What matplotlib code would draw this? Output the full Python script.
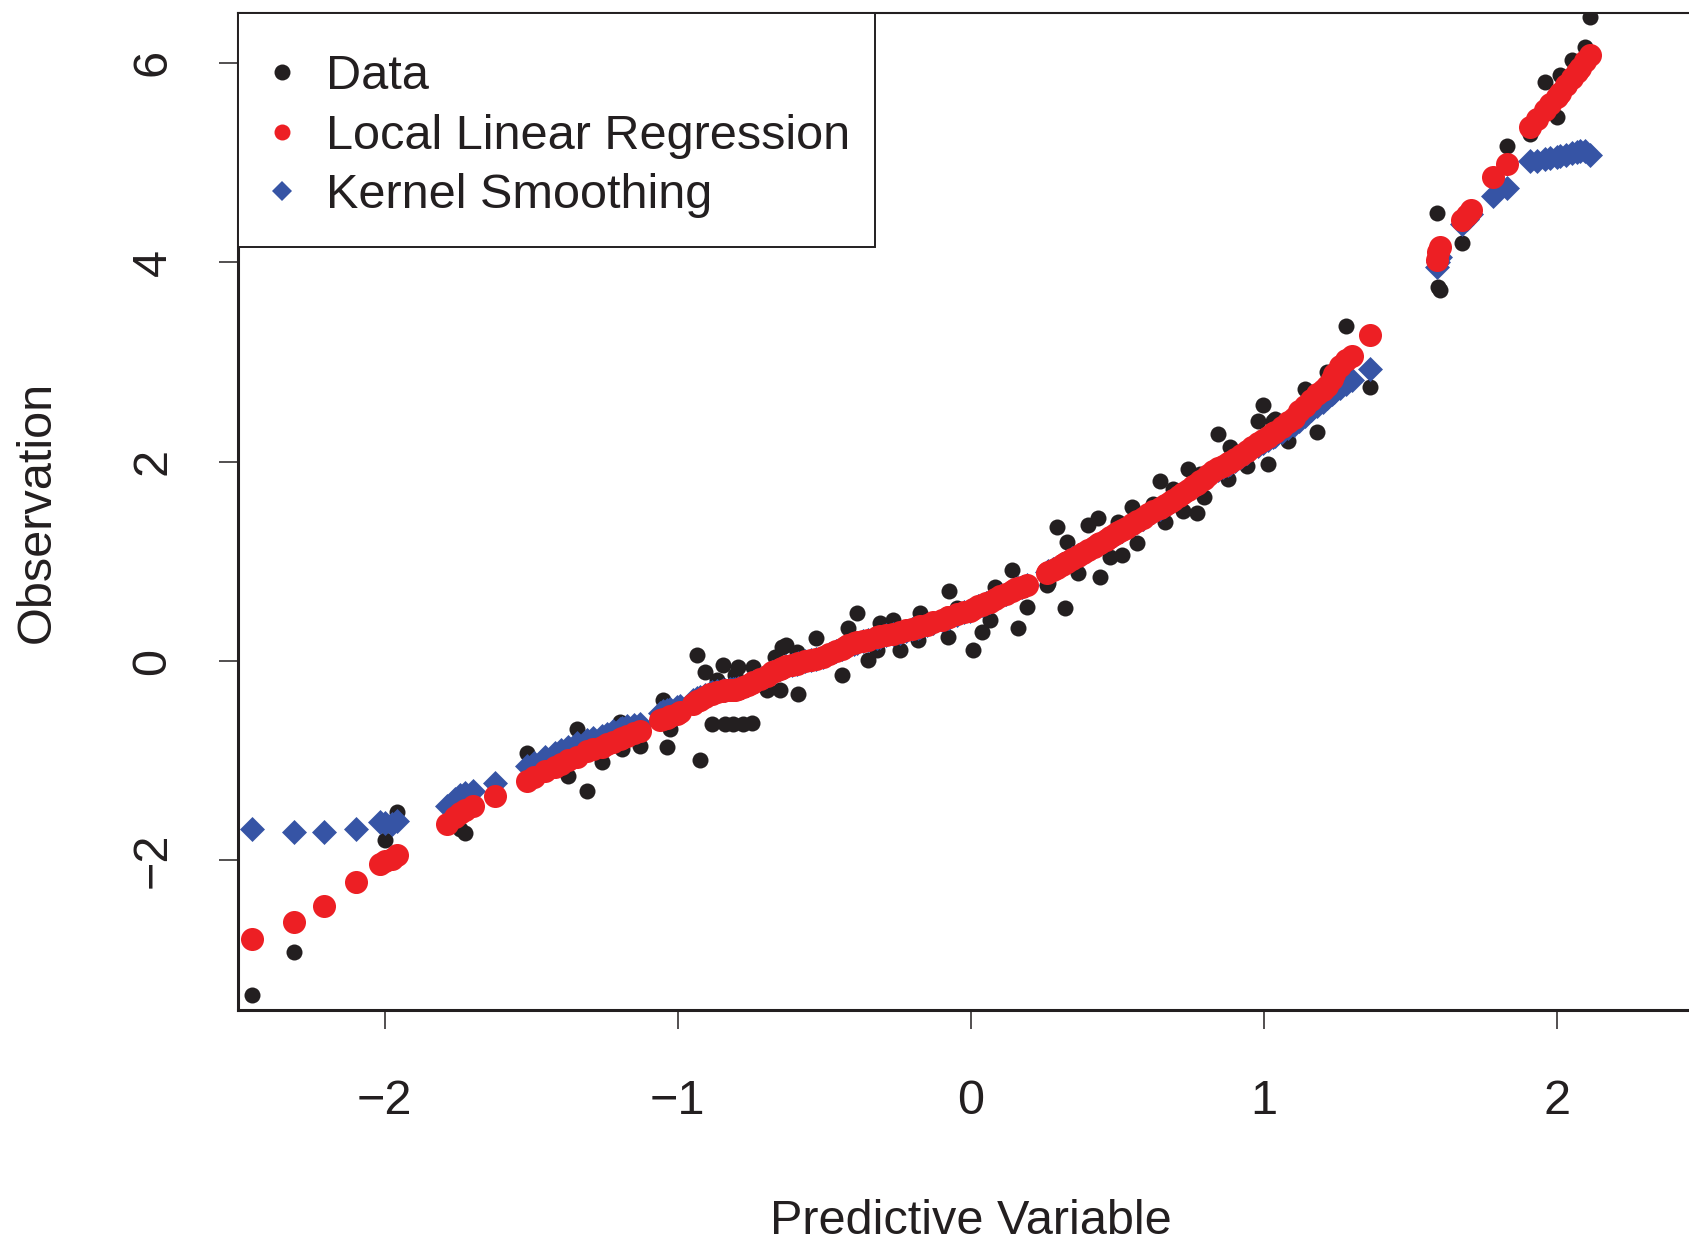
import matplotlib
matplotlib.use("Agg")
import matplotlib.pyplot as plt
from matplotlib.lines import Line2D
from matplotlib.patches import Rectangle

plt.rcParams['font.family'] = ['Liberation Sans', 'DejaVu Sans']

# ---- data ----
x_pred = [
    -2.451, -2.310, -2.207, -2.099, -2.016, -1.999, -1.975, -1.959,
    -1.788, -1.760, -1.743, -1.726, -1.697, -1.623,
    -1.515, -1.490, -1.453, -1.420, -1.400, -1.373, -1.345, -1.311, -1.290, -1.260,
    -1.243, -1.220, -1.197, -1.190, -1.174, -1.150, -1.129, -1.061, -1.049, -1.038,
    -1.027, -1.004, -0.992, -0.947, -0.935, -0.924, -0.907, -0.890, -0.884, -0.867,
    -0.845, -0.839, -0.822, -0.811, -0.805, -0.794, -0.777, -0.760, -0.748, -0.742,
    -0.720, -0.697, -0.680, -0.668, -0.651, -0.645, -0.630, -0.610, -0.594, -0.590,
    -0.565, -0.545, -0.528, -0.505, -0.485, -0.460, -0.441, -0.430, -0.419, -0.400,
    -0.390, -0.370, -0.351, -0.322, -0.310, -0.290, -0.265, -0.242, -0.220, -0.200,
    -0.180, -0.174, -0.150, -0.128, -0.100, -0.077, -0.075, -0.049, -0.025, -0.003,
    0.008, 0.025, 0.036, 0.050, 0.065, 0.082, 0.100, 0.120, 0.139, 0.150,
    0.161, 0.175, 0.190,
    0.258, 0.264, 0.280, 0.292, 0.310, 0.321, 0.326, 0.345, 0.366, 0.383,
    0.400, 0.420, 0.434, 0.440, 0.460, 0.474, 0.490, 0.502, 0.514, 0.530,
    0.548, 0.565, 0.585, 0.605, 0.622, 0.645, 0.662, 0.679, 0.690, 0.710,
    0.724, 0.741, 0.758, 0.770, 0.781, 0.793, 0.810, 0.826, 0.843, 0.860,
    0.878, 0.883, 0.900, 0.920, 0.940, 0.960, 0.980, 0.997, 1.014, 1.031,
    1.037, 1.060, 1.082, 1.100, 1.120, 1.139, 1.160, 1.179, 1.200, 1.215,
    1.230, 1.239, 1.260, 1.279, 1.301, 1.361,
    1.588, 1.594, 1.599, 1.673, 1.690, 1.707, 1.781, 1.827, 1.907, 1.930,
    1.958, 1.975, 1.998, 2.009, 2.030, 2.049, 2.066, 2.077, 2.094, 2.111,
]

y_obs = [
    -3.35, -2.92, -2.44, -2.25, -2.07, -1.79, -1.98, -1.51,
    -1.62, -1.55, -1.68, -1.72, -1.44, -1.36,
    -0.92, -1.15, -1.08, -1.05, -1.02, -1.15, -0.68, -1.30, -0.89, -1.01,
    -0.84, -0.80, -0.61, -0.88, -0.74, -0.72, -0.85, -0.56, -0.39, -0.86,
    -0.68, -0.53, -0.50, -0.42, 0.06, -0.99, -0.11, -0.34, -0.63, -0.19,
    -0.04, -0.63, -0.25, -0.63, -0.14, -0.06, -0.63, -0.24, -0.62, -0.06,
    -0.18, -0.29, -0.12, 0.04, -0.29, 0.14, 0.16, -0.04, 0.09, -0.33,
    0.02, -0.02, 0.23, 0.05, 0.08, 0.12, -0.14, 0.15, 0.33, 0.19,
    0.48, 0.22, 0.01, 0.11, 0.38, 0.27, 0.41, 0.11, 0.30, 0.33,
    0.21, 0.48, 0.37, 0.40, 0.42, 0.24, 0.70, 0.53, 0.49, 0.50,
    0.11, 0.55, 0.29, 0.60, 0.41, 0.74, 0.64, 0.68, 0.91, 0.70,
    0.33, 0.75, 0.54,
    0.76, 0.78, 0.92, 1.34, 0.95, 0.53, 1.19, 1.02, 0.88, 1.09,
    1.36, 1.13, 1.43, 0.84, 1.22, 1.04, 1.27, 1.39, 1.06, 1.34,
    1.55, 1.18, 1.44, 1.47, 1.58, 1.81, 1.39, 1.60, 1.73, 1.66,
    1.50, 1.93, 1.76, 1.48, 1.88, 1.65, 1.86, 1.90, 2.28, 1.96,
    1.83, 2.15, 2.03, 2.07, 1.96, 2.15, 2.41, 2.57, 1.98, 2.41,
    2.43, 2.35, 2.21, 2.44, 2.50, 2.73, 2.62, 2.30, 2.73, 2.90,
    2.84, 2.92, 2.96, 3.36, 3.05, 2.75,
    4.49, 3.75, 3.72, 4.19, 4.45, 4.52, 4.86, 5.17, 5.29, 5.42,
    5.81, 5.57, 5.46, 5.88, 5.78, 6.03, 5.95, 5.91, 6.16, 6.46,
]

y_llr = [
    -2.79, -2.62, -2.46, -2.22, -2.04, -2.01, -1.99, -1.95,
    -1.63, -1.56, -1.52, -1.49, -1.45, -1.35,
    -1.20, -1.16, -1.10, -1.06, -1.03, -0.99, -0.96, -0.90, -0.88, -0.86,
    -0.83, -0.81, -0.78, -0.77, -0.75, -0.72, -0.70, -0.59, -0.58, -0.57,
    -0.55, -0.53, -0.51, -0.43, -0.40, -0.39, -0.36, -0.33, -0.33, -0.31,
    -0.30, -0.29, -0.29, -0.29, -0.29, -0.28, -0.26, -0.24, -0.22, -0.21,
    -0.18, -0.15, -0.11, -0.10, -0.08, -0.07, -0.05, -0.04, -0.03, -0.02,
    0.00, 0.01, 0.02, 0.04, 0.07, 0.10, 0.12, 0.14, 0.16, 0.18,
    0.19, 0.20, 0.21, 0.24, 0.25, 0.26, 0.27, 0.29, 0.31, 0.32,
    0.34, 0.35, 0.36, 0.39, 0.41, 0.44, 0.44, 0.47, 0.49, 0.50,
    0.52, 0.55, 0.56, 0.58, 0.59, 0.62, 0.65, 0.67, 0.70, 0.72,
    0.73, 0.74, 0.76,
    0.88, 0.89, 0.91, 0.93, 0.96, 0.98, 0.99, 1.02, 1.05, 1.08,
    1.11, 1.14, 1.17, 1.18, 1.21, 1.24, 1.27, 1.29, 1.31, 1.33,
    1.37, 1.40, 1.43, 1.47, 1.50, 1.54, 1.57, 1.60, 1.62, 1.66,
    1.69, 1.72, 1.76, 1.78, 1.81, 1.83, 1.87, 1.91, 1.94, 1.96,
    1.99, 2.00, 2.03, 2.07, 2.11, 2.15, 2.19, 2.22, 2.25, 2.29,
    2.30, 2.35, 2.40, 2.44, 2.51, 2.56, 2.62, 2.68, 2.72, 2.76,
    2.83, 2.88, 2.96, 3.02, 3.06, 3.27,
    4.02, 4.10, 4.15, 4.42, 4.47, 4.52, 4.86, 4.99, 5.36, 5.44,
    5.53, 5.59, 5.66, 5.70, 5.78, 5.85, 5.91, 5.95, 6.02, 6.08,
]

y_ks = [
    -1.68, -1.71, -1.71, -1.68, -1.61, -1.62, -1.63, -1.60,
    -1.45, -1.38, -1.34, -1.32, -1.30, -1.22,
    -1.05, -1.02, -0.96, -0.92, -0.89, -0.86, -0.82, -0.79, -0.77, -0.75,
    -0.73, -0.70, -0.68, -0.67, -0.65, -0.64, -0.63, -0.52, -0.50, -0.49,
    -0.48, -0.46, -0.45, -0.39, -0.37, -0.36, -0.34, -0.32, -0.31, -0.30,
    -0.29, -0.29, -0.28, -0.28, -0.28, -0.27, -0.26, -0.24, -0.22, -0.21,
    -0.18, -0.15, -0.11, -0.10, -0.08, -0.07, -0.05, -0.04, -0.03, -0.02,
    0.00, 0.01, 0.02, 0.04, 0.07, 0.10, 0.12, 0.14, 0.15, 0.17,
    0.18, 0.20, 0.21, 0.23, 0.24, 0.26, 0.27, 0.28, 0.30, 0.32,
    0.33, 0.34, 0.36, 0.38, 0.41, 0.43, 0.43, 0.46, 0.49, 0.50,
    0.52, 0.55, 0.56, 0.58, 0.59, 0.62, 0.65, 0.67, 0.70, 0.72,
    0.73, 0.74, 0.76,
    0.89, 0.90, 0.92, 0.94, 0.97, 0.98, 1.00, 1.03, 1.06, 1.08,
    1.11, 1.14, 1.16, 1.17, 1.21, 1.23, 1.26, 1.28, 1.30, 1.33,
    1.36, 1.39, 1.42, 1.46, 1.49, 1.53, 1.56, 1.59, 1.61, 1.65,
    1.68, 1.71, 1.75, 1.77, 1.79, 1.82, 1.85, 1.89, 1.92, 1.95,
    1.97, 1.98, 2.01, 2.05, 2.09, 2.13, 2.16, 2.19, 2.22, 2.25,
    2.26, 2.30, 2.34, 2.37, 2.41, 2.46, 2.52, 2.56, 2.60, 2.64,
    2.68, 2.70, 2.74, 2.78, 2.82, 2.93,
    3.95, 4.00, 4.05, 4.38, 4.43, 4.48, 4.66, 4.74, 5.02, 5.02,
    5.04, 5.05, 5.06, 5.07, 5.08, 5.10, 5.11, 5.12, 5.12, 5.08,
]

legend_labels = ["Data", "Local Linear Regression", "Kernel Smoothing"]
x_ticks = [-2, -1, 0, 1, 2]
y_ticks = [-2, 0, 2, 4, 6]

C_BLACK = "#231f20"
C_RED = "#ed1f24"
C_BLUE = "#3654a5"

W, H = 1690, 1236
fig = plt.figure(figsize=(W / 100, H / 100), dpi=100)
ax_left, ax_right, ax_top, ax_bot = 238, 238 + 5 * 293.2, 13, 1010
axw = ax_right - ax_left
axh = ax_bot - ax_top
ax = fig.add_axes([ax_left / W, (H - ax_bot) / H, axw / W, axh / H])

ax.scatter(x_pred, y_obs, s=133, marker='o', color=C_BLACK, linewidths=0, zorder=2)
ax.scatter(x_pred, y_ks, s=162, marker='D', color=C_BLUE, linewidths=0, zorder=3)
ax.scatter(x_pred, y_llr, s=275, marker='o', color=C_RED, linewidths=0, zorder=4)

ax.set_xlim(-2.5, 2.5)
ax.set_ylim(-3.5, 6.5)
ax.set_xticks(x_ticks)
ax.set_yticks(y_ticks)
ax.set_xticklabels([("\u2212%d" % -v) if v < 0 else str(v) for v in x_ticks])
ax.set_yticklabels([("\u2212%d" % -v) if v < 0 else str(v) for v in y_ticks],
                   rotation=90, va='center')

FS = 35
ax.tick_params(axis='both', direction='out', length=14, width=1.1,
               color=C_BLACK, labelsize=FS, labelcolor=C_BLACK)
ax.tick_params(axis='x', pad=35.4)
ax.tick_params(axis='y', pad=31)
for side in ['left', 'bottom']:
    ax.spines[side].set_linewidth(2.2)
    ax.spines[side].set_color(C_BLACK)
for side in ['top', 'right']:
    ax.spines[side].set_linewidth(1.5)
    ax.spines[side].set_color(C_BLACK)

ax.set_xlabel("Predictive Variable", fontsize=FS, color=C_BLACK)
ax.set_ylabel("Observation", fontsize=FS, color=C_BLACK)
ax.xaxis.set_label_coords(0.5, -(1199 - ax_bot) / axh)
ax.yaxis.set_label_coords(-(ax_left - 60) / axw, 0.5)

# legend frame (drawn as a box joined to the top-left corner of the axes)
leg_right, leg_bottom = 875.3, 246.9
ax.add_patch(Rectangle((0, 1 - (leg_bottom - ax_top) / axh),
                       (leg_right - ax_left) / axw, (leg_bottom - ax_top) / axh,
                       transform=ax.transAxes, facecolor='white', edgecolor=C_BLACK,
                       linewidth=1.4, zorder=9, clip_on=False))

handles = [
    Line2D([], [], ls='none', marker='o', color=C_BLACK, markersize=11.5, markeredgewidth=0),
    Line2D([], [], ls='none', marker='o', color=C_RED, markersize=11.5, markeredgewidth=0),
    Line2D([], [], ls='none', marker='D', color=C_BLUE, markersize=10.5, markeredgewidth=0),
]
content_left, content_top = 268.6, 54.0
leg = ax.legend(handles, legend_labels, loc='upper left',
                bbox_to_anchor=((content_left - ax_left) / axw, 1 - (content_top - ax_top) / axh),
                borderaxespad=0, fontsize=FS, frameon=False,
                borderpad=0, labelspacing=0.30, handlelength=0.55,
                handletextpad=0.64, labelcolor=C_BLACK)
leg.set_zorder(10)

fig.savefig("out.png", dpi=100)
